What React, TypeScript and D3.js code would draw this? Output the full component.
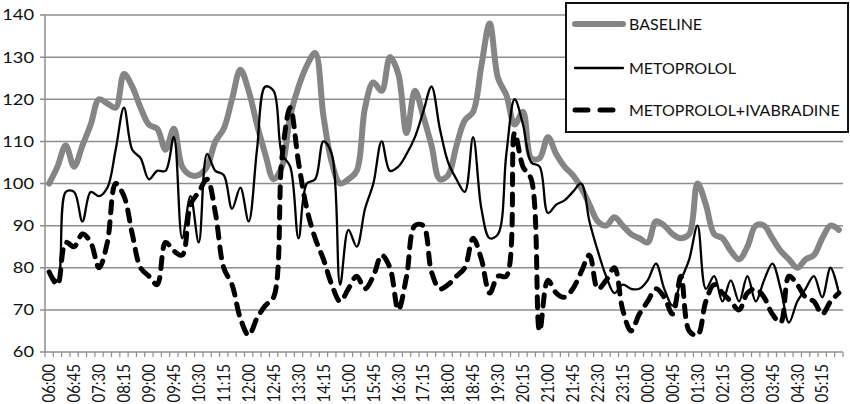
import React from "react";
import * as d3 from "d3";

const times = [
  "06:00","06:15","06:30","06:45","07:00","07:15","07:30","07:45","08:00","08:15","08:30","08:45",
  "09:00","09:15","09:30","09:45","10:00","10:15","10:30","10:45","11:00","11:15","11:30","11:45",
  "12:00","12:15","12:30","12:45","13:00","13:15","13:30","13:45","14:00","14:15","14:30","14:45",
  "15:00","15:15","15:30","15:45","16:00","16:15","16:30","16:45","17:00","17:15","17:30","17:45",
  "18:00","18:15","18:30","18:45","19:00","19:15","19:30","19:45","20:00","20:15","20:30","20:45",
  "21:00","21:15","21:30","21:45","22:00","22:15","22:30","22:45","23:00","23:15","23:30","23:45",
  "00:00","00:15","00:30","00:45","01:00","01:15","01:30","01:45","02:00","02:15","02:30","02:45",
  "03:00","03:15","03:30","03:45","04:00","04:15","04:30","04:45","05:00","05:15","05:30","05:45",
];

const baseline = [
  100,104,109,104,109,114,120,119,118,126,123,118,
  114,113,108,113,104,102,102,104,110,113,120,127,
  122,114,107,101,104,116,123,128,131,116,105,100,
  101,103,118,124,122,130,126,112,122,116,109,101,
  102,109,115,117,128,138,125,121,114,117,106,106,
  111,107,104,102,99,95,91,90,92,90,88,87,
  86,91,90,88,87,88,100,95,88,87,84,82,
  85,90,90,87,84,82,80,82,83,87,90,89,
];

const metoprolol = [
  79,77,98,98,91,98,97,99,108,118,108,106,
  101,103,103,111,87,97,86,107,103,102,94,99,
  91,108,123,122,107,104,87,100,101,110,107,76,
  89,85,94,100,110,103,104,107,111,117,123,113,
  105,101,98,111,94,87,88,107,120,114,105,104,
  93,95,96,98,100,91,84,78,74,76,75,75,
  77,81,75,71,77,82,90,75,78,72,77,72,
  78,72,77,81,75,67,72,75,78,73,80,74,
];

const ivabradine = [
  79,76,86,85,88,86,80,86,100,97,88,80,
  78,76,86,84,83,95,98,101,93,80,76,68,
  64,68,71,73,106,118,105,94,87,82,76,72,
  75,78,75,78,83,80,70,78,90,90,79,75,
  76,78,80,87,82,74,78,78,112,104,101,65,
  77,74,73,75,79,83,75,77,80,70,65,69,
  72,75,73,69,78,65,64,72,76,74,72,70,
  74,75,73,69,67,78,76,73,72,69,72,74,
];

const yTicks = [60, 70, 80, 90, 100, 110, 120, 130, 140];
const seriesNames = ["BASELINE", "METOPROLOL", "METOPROLOL+IVABRADINE"];

const FONT = "Lato, 'Open Sans', sans-serif";
const GRID = "#8e8e8e";

export default function App() {
  const W = 850, H = 404;
  const left = 45, right = 843, top = 15, bottom = 352;
  const x = d3.scaleBand<string>().domain(times).range([left, right]).padding(0);
  const y = d3.scaleLinear().domain([60, 140]).range([bottom, top]);
  const cx = (i: number) => (x(times[i]) as number) + x.bandwidth() / 2;
  const line = d3
    .line<number>()
    .x((_d, i) => cx(i))
    .y((d) => y(d))
    .curve(d3.curveCatmullRom.alpha(0.5));

  const bounds = d3.range(times.length + 1).map((k) => left + k * x.bandwidth());

  const styles = [
    { stroke: "#858585", width: 6, dash: undefined as string | undefined },
    { stroke: "#000", width: 2.3, dash: undefined as string | undefined },
    { stroke: "#000", width: 5, dash: "11 9" },
  ];
  const data = [baseline, metoprolol, ivabradine];

  return (
    <div style={{ position: "fixed", left: 0, top: 0, width: W, height: H, background: "#fff" }}>
      <svg width={W} height={H} style={{ display: "block", fontFamily: FONT }}>
        <rect x={0} y={0} width={W} height={H} fill="#fff" />
        {yTicks.map((t) => (
          <g key={t}>
            <line x1={left - 5} x2={right} y1={y(t)} y2={y(t)} stroke={GRID} strokeWidth={1.5} />
            <text
              x={0}
              y={0}
              dy="0.36em"
              textAnchor="end"
              fontSize={15}
              fill="#111"
              transform={`translate(34,${y(t)}) scale(1.22,1)`}
            >
              {t}
            </text>
          </g>
        ))}
        <line x1={left} x2={left} y1={top} y2={bottom} stroke={GRID} strokeWidth={1.5} />
        {bounds.map((bx, k) => (
          <line key={k} x1={bx} x2={bx} y1={bottom} y2={bottom + 5} stroke={GRID} strokeWidth={1.2} />
        ))}
        {times.map((t, i) =>
          i % 3 === 0 ? (
            <text
              key={t}
              transform={`translate(${cx(i)},364) scale(1.15,1) rotate(-90)`}
              textAnchor="end"
              dy="0.36em"
              fontSize={15}
              fill="#111"
            >
              {t}
            </text>
          ) : null
        )}
        {data.map((arr, s) => (
          <path
            key={s}
            d={line(arr) as string}
            fill="none"
            stroke={styles[s].stroke}
            strokeWidth={styles[s].width}
            strokeDasharray={styles[s].dash}
            strokeLinecap="round"
            strokeLinejoin="round"
          />
        ))}
        <rect x={566} y={3} width={282} height={129} fill="#fff" stroke="#111" strokeWidth={2} />
        {seriesNames.map((n, s) => {
          const ly = [24, 68, 110][s];
          return (
            <g key={n}>
              <line
                x1={575}
                x2={623}
                y1={ly}
                y2={ly}
                stroke={styles[s].stroke}
                strokeWidth={styles[s].width}
                strokeDasharray={s === 2 ? "13 12" : undefined}
                strokeLinecap="round"
              />
              <text x={629} y={ly} dy="0.36em" fontSize={16} fill="#111">
                {n}
              </text>
            </g>
          );
        })}
      </svg>
    </div>
  );
}
